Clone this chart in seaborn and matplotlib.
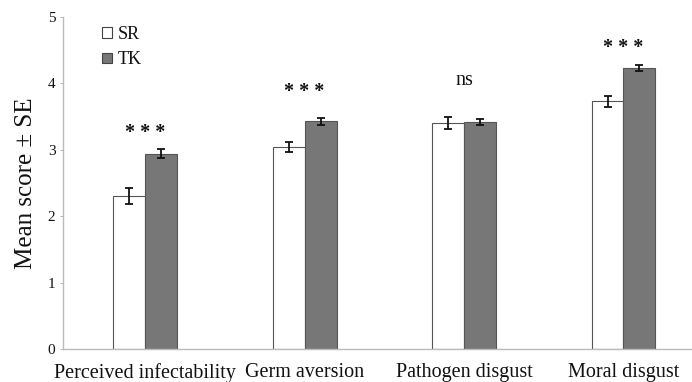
import numpy as np
import pandas as pd
import matplotlib
matplotlib.use("Agg")
import matplotlib.pyplot as plt
import seaborn as sns

categories = ["Perceived infectability", "Germ aversion", "Pathogen disgust", "Moral disgust"]
groups = ["SR", "TK"]
sr_means = [2.31, 3.04, 3.41, 3.73]
tk_means = [2.94, 3.43, 3.42, 4.23]
sr_se = [0.12, 0.08, 0.09, 0.08]
tk_se = [0.07, 0.05, 0.05, 0.05]
sig_labels = ["* * *", "* * *", "ns", "* * *"]
sig_heights = [3.25, 3.87, 4.05, 4.53]
yticks = [0, 1, 2, 3, 4, 5]

sns.set_theme(style="white")
plt.rcParams["font.family"] = ["Liberation Serif", "DejaVu Serif"]

df = pd.DataFrame({
    "category": categories * 2,
    "group": ["SR"] * 4 + ["TK"] * 4,
    "mean": sr_means + tk_means,
    "se": sr_se + tk_se,
})

fig = plt.figure(figsize=(6.92, 3.82), dpi=100)
ax = fig.add_axes([0.091, 0.0864, 0.909, 0.869])

sns.barplot(data=df, x="category", y="mean", hue="group", hue_order=groups,
            order=categories, palette={"SR": "white", "TK": "#777777"},
            width=0.4, errorbar=None, ax=ax, saturation=1,
            edgecolor="#555555", linewidth=0.8)

# error bars at bar centres
for cont, g in zip(ax.containers, groups):
    sub = df[df.group == g].set_index("category").loc[categories]
    xs = [p.get_x() + p.get_width() / 2 for p in cont.patches]
    ax.errorbar(xs, sub["mean"].values, yerr=sub["se"].values, fmt="none",
                ecolor="#111111", elinewidth=1.3, capsize=3, capthick=1.3, zorder=5)

for i, (lab, h) in enumerate(zip(sig_labels, sig_heights)):
    ax.text(i, h, lab, ha="center", va="center", fontsize=14.5,
            fontweight="bold" if lab != "ns" else "normal", color="#111111")

ax.set_xlim(-0.516, 3.43)
ax.set_ylim(0, 5)
ax.set_yticks(yticks)
ax.set_yticklabels([str(t) for t in yticks], fontsize=11, color="#111111")
ax.tick_params(axis="y", length=2.5, width=0.6, color="#aaaaaa", pad=3, left=True)
ax.tick_params(axis="x", length=0, labelsize=14.5, pad=10, labelcolor="#111111")
ax.set_xlabel("")
ax.set_ylabel("Mean score \u00b1 SE", fontsize=18, labelpad=8, color="#111111")
for s in ["top", "right"]:
    ax.spines[s].set_visible(False)
for s in ["left", "bottom"]:
    ax.spines[s].set_color("#bbbbbb")
    ax.spines[s].set_linewidth(1.0)

leg = ax.legend(loc="upper left", bbox_to_anchor=(0.045, 1.005), frameon=False,
                fontsize=13, handlelength=0.55, handleheight=0.55, handletextpad=0.3,
                labelspacing=0.45, borderaxespad=0.2)
for h in leg.legend_handles:
    h.set_edgecolor("#444444")
for t in leg.get_texts():
    t.set_color("#111111")

fig.savefig("out.png", dpi=100)
